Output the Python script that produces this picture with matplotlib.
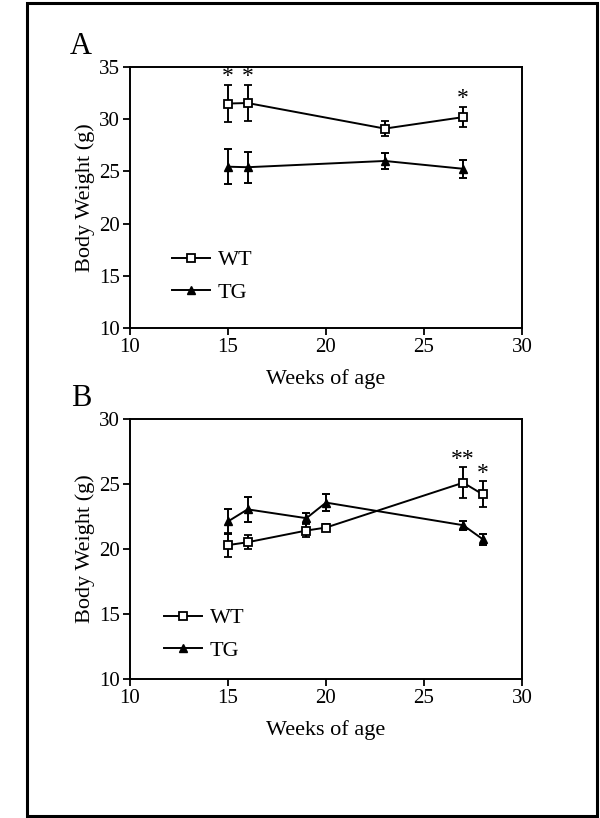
import matplotlib.pyplot as plt
from matplotlib.patches import Rectangle
from matplotlib.lines import Line2D

plt.rcParams['font.family'] = ['Liberation Serif', 'DejaVu Serif']

# panel A
weeks_a = [15, 16, 23, 27]
wt_a = [31.5, 31.55, 29.1, 30.2]
wt_a_err = [1.8, 1.7, 0.72, 0.95]
tg_a = [25.45, 25.4, 26.0, 25.25]
tg_a_err = [1.68, 1.5, 0.74, 0.88]
stars_a = ['*', '*', '', '*']

# panel B
weeks_b = [15, 16, 19, 20, 27, 28]
wt_b = [20.3, 20.52, 21.42, 21.65, 25.1, 24.2]
wt_b_err = [0.9, 0.55, 0.48, 0.3, 1.2, 1.0]
tg_b = [22.12, 23.05, 22.37, 23.57, 21.83, 20.75]
tg_b_err = [0.93, 0.95, 0.4, 0.67, 0.35, 0.43]
stars_b = ['', '', '', '', '**', '*']

fig = plt.figure(figsize=(6.0, 8.18), dpi=100)

# outer frame
fig.patches.append(Rectangle((27 / 600, 2 / 818), 570 / 600, 813 / 818,
                             transform=fig.transFigure, fill=False,
                             edgecolor='black', linewidth=2.2))

wt_style = dict(color='black', linewidth=1.4, marker='s', markersize=5.5,
                markerfacecolor='white', markeredgecolor='black',
                markeredgewidth=1.3)
tg_style = dict(color='black', linewidth=1.4, marker='^', markersize=5.5,
                markerfacecolor='black')


def panel(rect, weeks, wt, wt_err, tg, tg_err, stars, ylim, letter, leg_pos):
    ax = fig.add_axes(rect)
    kw = dict(capsize=3, elinewidth=1.4, capthick=1.4, ecolor='black')
    ax.errorbar(weeks, wt, yerr=wt_err, zorder=3, **kw, **wt_style)
    ax.errorbar(weeks, tg, yerr=tg_err, zorder=2, **kw, **tg_style)
    for x, y, e, s in zip(weeks, wt, wt_err, stars):
        if s:
            ax.text(x, y + e - 0.2, s, ha='center', va='bottom', fontsize=17)
    ax.set_xlim(10, 30)
    ax.set_ylim(*ylim)
    ax.set_xticks([10, 15, 20, 25, 30])
    ax.set_yticks(range(ylim[0], ylim[1] + 1, 5))
    ax.tick_params(direction='out', length=5, width=1.3, labelsize=15, pad=2)
    for sp in ax.spines.values():
        sp.set_linewidth(1.4)
    ax.set_ylabel('Body Weight (g)', fontsize=16, labelpad=3)
    ax.set_xlabel('Weeks of age', fontsize=16, labelpad=9)
    handles = [Line2D([], [], **wt_style), Line2D([], [], **tg_style)]
    ax.legend(handles, ['WT', 'TG'], loc='center left', bbox_to_anchor=leg_pos,
              frameon=False, fontsize=16, handlelength=1.7, handletextpad=0.35,
              labelspacing=0.55, borderpad=0, borderaxespad=0)
    fig.text(81 / 600, rect[1] + rect[3] + 21 / 818, letter,
             fontsize=22, ha='center', va='center')
    return ax


panel([130 / 600, 1 - 328 / 818, 392 / 600, 261 / 818], weeks_a, wt_a, wt_a_err,
      tg_a, tg_a_err, stars_a, (10, 35), 'A', (0.107, 0.197))
panel([130 / 600, 1 - 679 / 818, 392 / 600, 260 / 818], weeks_b, wt_b, wt_b_err,
      tg_b, tg_b_err, stars_b, (10, 30), 'B', (0.087, 0.171))

fig.savefig('out.png', dpi=100)
